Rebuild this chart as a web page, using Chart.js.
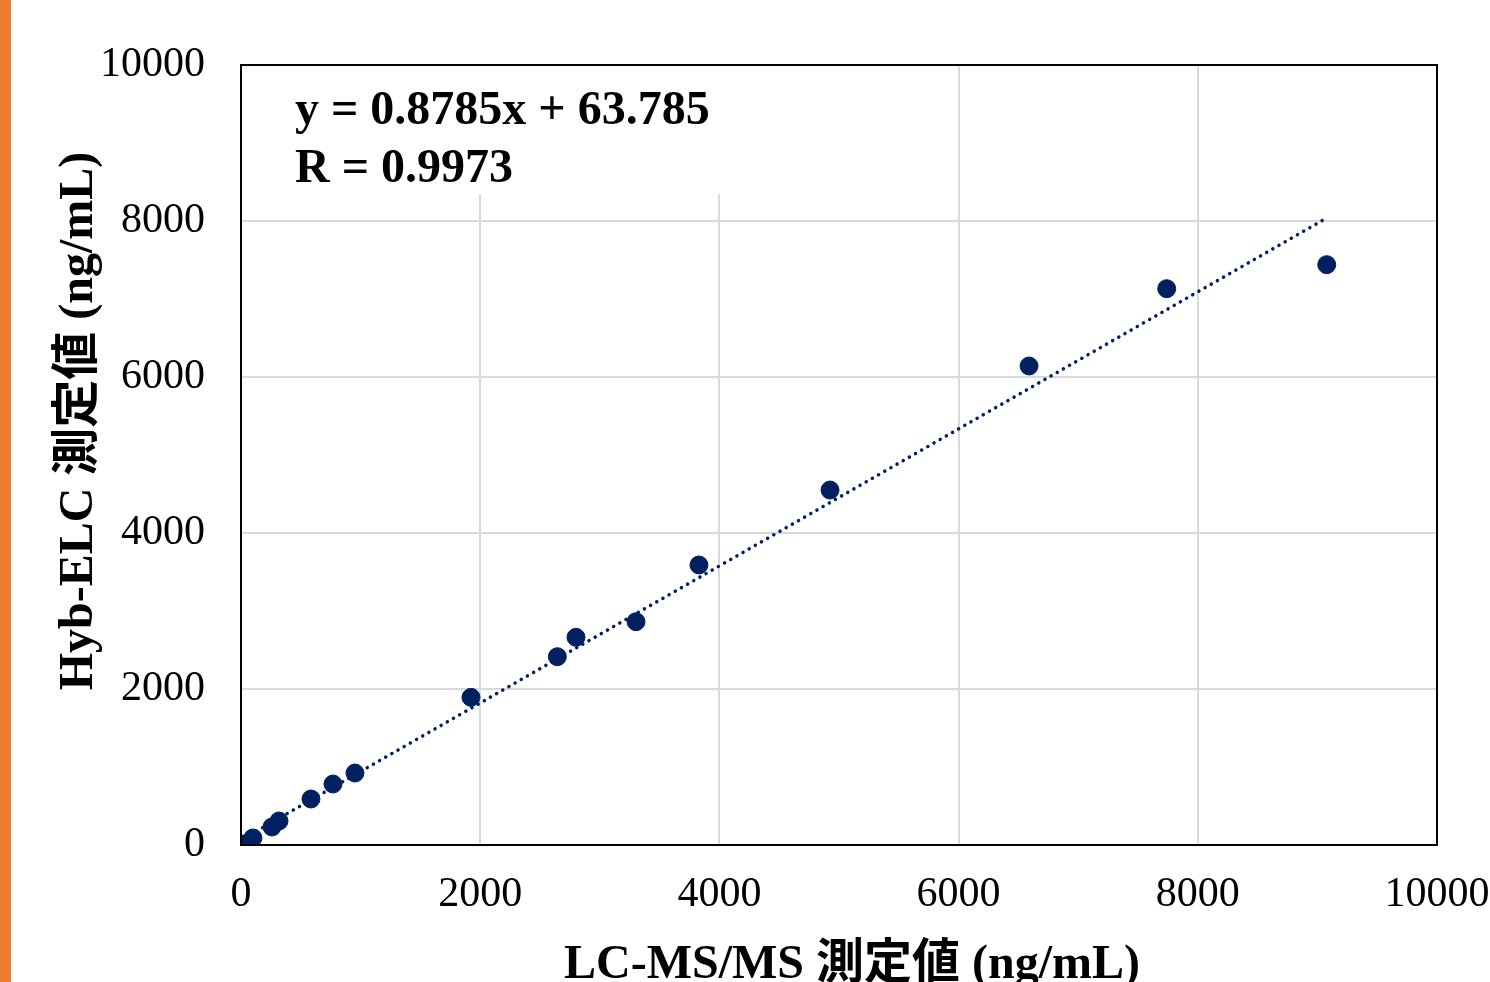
<!DOCTYPE html>
<html>
<head>
<meta charset="utf-8">
<script src="https://cdn.jsdelivr.net/npm/chart.js@4.4.0/dist/chart.umd.min.js"></script>
<style>
  html, body { margin: 0; padding: 0; overflow: hidden; background: #fff; }
  #wrap { position: relative; width: 1490px; height: 1000px; }
  #strip { position: absolute; left: 0; top: 0; width: 11px; height: 1000px; background: #ed7d31; }
</style>
</head>
<body>
<div id="wrap">
  <canvas id="scatterChart" width="1490" height="1000"></canvas>
  <div id="strip"></div>
</div>
<script>
const lcmsValues = [25, 100, 259, 318, 585, 769, 953, 1923, 2645, 2801, 3303, 3829, 4925, 6589, 7740, 9078];
const hybValues  = [13, 90, 231, 308, 590, 782, 923, 1893, 2414, 2663, 2863, 3590, 4551, 6141, 7132, 7440];

// trendline as printed on the chart
const slope = 0.8785;
const intercept = 63.785;
const rValue = 0.9973;

const axisTicks = [0, 2000, 4000, 6000, 8000, 10000];
const xTitle = 'LC-MS/MS 測定値 (ng/mL)';
const yTitle = 'Hyb-ELC 測定値 (ng/mL)';

const navy = '#002060';
const serif = "'Liberation Serif', 'Times New Roman', 'Noto Sans CJK JP', serif";

const points = lcmsValues.map((x, i) => ({ x: x, y: hybValues[i] }));
const xMin = Math.min(...lcmsValues);
const xMax = Math.max(...lcmsValues);
const trend = [xMin, xMax].map(x => ({ x: x, y: slope * x + intercept }));

// white label box with the equation, the frame and the axis titles
const extras = {
  id: 'extras',
  beforeDatasetsDraw(chart) {
    const ctx = chart.ctx;
    const a = chart.chartArea;
    ctx.save();
    ctx.fillStyle = '#fff';
    ctx.fillRect(a.left + 1, a.top + 1, 500, 128);
    ctx.fillStyle = '#000';
    ctx.font = "bold 48px " + serif;
    ctx.textBaseline = 'middle';
    ctx.fillText('y = ' + slope + 'x + ' + intercept, a.left + 54, a.top + 47);
    ctx.fillText('R = ' + rValue, a.left + 54, a.top + 105);
    ctx.restore();
  },
  afterDraw(chart) {
    const ctx = chart.ctx;
    const a = chart.chartArea;
    ctx.save();
    ctx.strokeStyle = '#000';
    ctx.lineWidth = 2;
    ctx.strokeRect(a.left, a.top, a.right - a.left, a.bottom - a.top);

    ctx.fillStyle = '#000';
    ctx.textAlign = 'center';
    ctx.textBaseline = 'middle';
    ctx.font = "bold 48px " + serif;
    ctx.fillText(xTitle, 852, 966);

    ctx.translate(80, 421);
    ctx.rotate(-Math.PI / 2);
    ctx.fillText(yTitle, 0, 0);
    ctx.restore();
  }
};

new Chart('scatterChart', {
  type: 'scatter',
  data: {
    datasets: [{
      type: 'line',
      data: trend,
      borderColor: navy,
      borderWidth: 3.5,
      borderDash: [0.1, 7],
      borderCapStyle: 'round',
      pointRadius: 0,
      fill: false,
      order: 0
    }, {
      data: points,
      backgroundColor: navy,
      borderColor: navy,
      pointRadius: 9,
      order: 1
    }]
  },
  options: {
    responsive: false,
    animation: false,
    layout: { padding: { top: 65, right: 53, left: 0, bottom: 0 } },
    plugins: { legend: { display: false }, tooltip: { enabled: false } },
    scales: {
      x: {
        type: 'linear',
        min: 0,
        max: 10000,
        afterBuildTicks: s => { s.ticks = axisTicks.map(v => ({ value: v })); },
        afterFit: s => { s.height = 155; s.paddingLeft = 0; s.paddingRight = 0; },
        grid: { color: '#d9d9d9', lineWidth: 2, drawTicks: false },
        border: { color: '#000', width: 2 },
        ticks: { padding: 25, maxRotation: 0, color: '#000', font: { family: serif, size: 42 },
                 callback: v => String(v) }
      },
      y: {
        type: 'linear',
        min: 0,
        max: 10000,
        afterBuildTicks: s => { s.ticks = axisTicks.map(v => ({ value: v })); },
        afterFit: s => { s.width = 241; s.paddingTop = 0; s.paddingBottom = 0; },
        grid: { color: '#d9d9d9', lineWidth: 2, drawTicks: false },
        border: { color: '#000', width: 2 },
        ticks: { padding: 36, color: '#000', font: { family: serif, size: 42 },
                 callback: v => String(v) }
      }
    }
  },
  plugins: [extras]
});
</script>
</body>
</html>
